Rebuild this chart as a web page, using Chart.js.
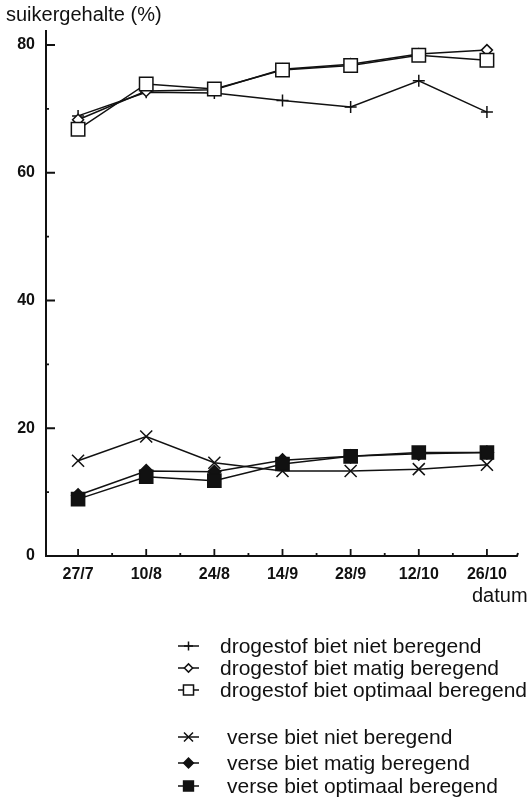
<!DOCTYPE html>
<html>
<head>
<meta charset="utf-8">
<script src="https://cdn.jsdelivr.net/npm/chart.js@4.4.1/dist/chart.umd.min.js"></script>
<style>
  html, body { margin: 0; padding: 0; background: #fff; }
  #wrap { width: 532px; height: 806px; }
</style>
</head>
<body>
<div id="wrap"><canvas id="suikerChart"></canvas></div>
<script>
// sugar content of beet, dry matter vs fresh, three irrigation levels
var dates = ['27/7', '10/8', '24/8', '14/9', '28/9', '12/10', '26/10'];
var yTicks = [0, 20, 40, 60, 80];

var drogeNiet     = [68.9, 72.6, 72.5, 71.3, 70.3, 74.4, 69.5];
var drogeMatig    = [68.3, 72.8, 73.0, 76.2, 77.0, 78.6, 79.2];
var drogeOptimaal = [66.8, 73.9, 73.1, 76.1, 76.8, 78.4, 77.6];
var verseNiet     = [14.9, 18.7, 14.6, 13.3, 13.3, 13.6, 14.3];
var verseMatig    = [9.5, 13.3, 13.2, 15.0, 15.6, 16.0, 16.2];
var verseOptimaal = [8.9, 12.4, 11.8, 14.4, 15.6, 16.2, 16.2];

var seriesLabels = [
  'drogestof biet niet beregend',
  'drogestof biet matig beregend',
  'drogestof biet optimaal beregend',
  'verse biet niet beregend',
  'verse biet matig beregend',
  'verse biet optimaal beregend'
];

var ink = '#111';
var FONT = '"Liberation Sans", Arial, sans-serif';

function series(label, data, style, radius, fill, order) {
  return {
    label: label,
    data: data,
    borderColor: ink,
    borderWidth: 1.5,
    tension: 0,
    pointStyle: style,
    pointRadius: radius,
    pointHoverRadius: radius,
    pointBorderColor: ink,
    pointBorderWidth: 1.5,
    pointBackgroundColor: fill,
    order: order
  };
}

var datasets = [
  series(seriesLabels[0], drogeNiet, 'cross', 6, ink, 2),
  series(seriesLabels[1], drogeMatig, 'rectRot', 5.5, '#fff', 1),
  series(seriesLabels[2], drogeOptimaal, 'rect', 9.5, '#fff', 0),
  series(seriesLabels[3], verseNiet, 'crossRot', 8.5, ink, 2),
  series(seriesLabels[4], verseMatig, 'rectRot', 6.5, ink, 1),
  series(seriesLabels[5], verseOptimaal, 'rect', 9.3, ink, 0)
];

// axes, inward tick marks, titles and the legend block
var decor = {
  id: 'decor',
  afterDraw: function(chart) {
    var ctx = chart.ctx;
    var xs = chart.scales.x, ys = chart.scales.y;
    var y0 = ys.getPixelForValue(0);
    var axisX = 46;
    ctx.save();
    ctx.strokeStyle = ink;
    ctx.lineWidth = 2;
    ctx.beginPath();
    ctx.moveTo(axisX, chart.chartArea.top);
    ctx.lineTo(axisX, y0);
    ctx.moveTo(45, y0);
    ctx.lineTo(517, y0);
    ctx.lineTo(518, y0 - 3);
    ctx.stroke();

    ctx.lineWidth = 1.8;
    ctx.beginPath();
    for (var v = 10; v <= 80; v += 10) {
      var py = ys.getPixelForValue(v);
      ctx.moveTo(axisX, py);
      ctx.lineTo(axisX + (v % 20 === 0 ? 9 : 3), py);
    }
    for (var i = 0; i < dates.length; i++) {
      var px = xs.getPixelForValue(i);
      ctx.moveTo(px, y0);
      ctx.lineTo(px, y0 - 7);
      if (i < dates.length - 1) {
        var mx = (px + xs.getPixelForValue(i + 1)) / 2;
        ctx.moveTo(mx, y0);
        ctx.lineTo(mx, y0 - 3);
      }
    }
    ctx.stroke();

    ctx.fillStyle = ink;
    ctx.textBaseline = 'middle';
    ctx.textAlign = 'left';
    ctx.font = '20px ' + FONT;
    ctx.fillText('suikergehalte (%)', 6, 15);
    ctx.fillText('datum', 472, 596);

    // legend
    var rowsY = [646, 668, 690, 737, 763, 786];
    var textX = [220, 220, 220, 227, 227, 227];
    ctx.font = '21px ' + FONT;
    chart.data.datasets.forEach(function(ds, k) {
      var cy = rowsY[k];
      ctx.strokeStyle = ink;
      ctx.lineWidth = 1.5;
      ctx.beginPath();
      ctx.moveTo(178, cy);
      ctx.lineTo(199, cy);
      ctx.stroke();
      ctx.fillStyle = ds.pointBackgroundColor;
      Chart.helpers.drawPoint(ctx, {
        pointStyle: ds.pointStyle,
        radius: ds.pointRadius * 0.75,
        borderWidth: 1.5,
        rotation: 0
      }, 188.5, cy);
      ctx.fillStyle = ink;
      ctx.fillText(ds.label, textX[k], cy + 1);
    });
    ctx.restore();
  }
};

new Chart(document.getElementById('suikerChart'), {
  type: 'line',
  data: { labels: dates, datasets: datasets },
  options: {
    responsive: true,
    maintainAspectRatio: false,
    animation: false,
    layout: { padding: { top: 30, right: 5, bottom: 220, left: 0 } },
    plugins: {
      legend: { display: false },
      title: { display: false },
      tooltip: { enabled: false }
    },
    scales: {
      x: {
        type: 'category',
        offset: true,
        grid: { display: false, drawTicks: false },
        border: { display: false },
        ticks: { color: ink, font: { family: FONT, size: 16, weight: 'bold' }, padding: 9, maxRotation: 0 },
        afterFit: function(s) { s.height = 30; }
      },
      y: {
        min: 0,
        max: 82.35,
        grid: { display: false, drawTicks: false },
        border: { display: false },
        afterBuildTicks: function(s) { s.ticks = yTicks.map(function(v) { return { value: v }; }); },
        ticks: { color: ink, font: { family: FONT, size: 16, weight: 'bold' }, padding: 9 },
        afterFit: function(s) { s.width = 44; }
      }
    }
  },
  plugins: [decor]
});
</script>
</body>
</html>
